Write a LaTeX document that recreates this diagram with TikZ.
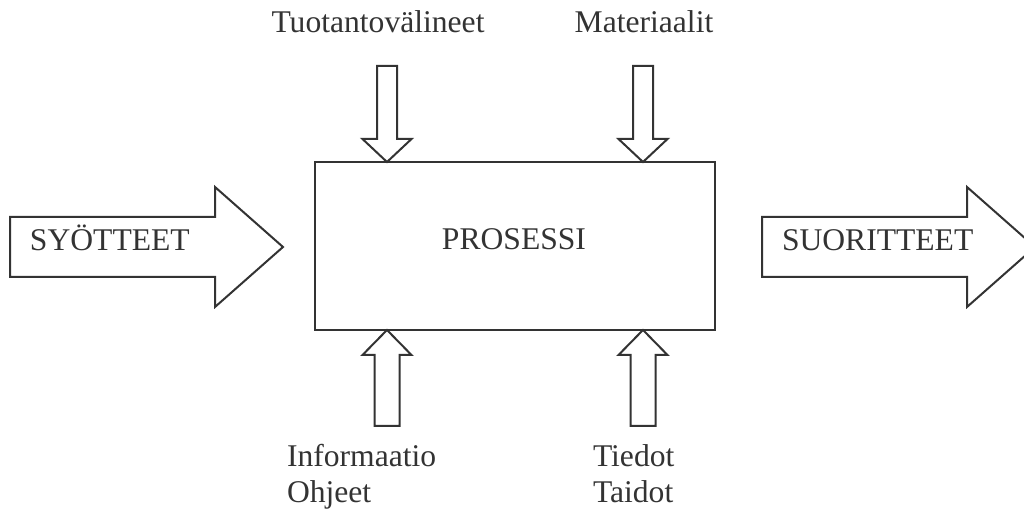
\documentclass[tikz,border=0pt]{standalone}
\usepackage{fontspec}
\setmainfont{Liberation Serif}
\usetikzlibrary{positioning,calc}

\begin{document}
\begin{tikzpicture} [
    x=0.5pt, y=-0.5pt,
    box/.style={draw=black!80, line width=1pt,%
      minimum width=200pt, minimum height=84pt,%
      outer sep=0, inner sep=0},
    fat/.style={draw=black!80, line width=1pt, line join=miter},
    lbl/.style={inner sep=0, outer sep=0,%
      font=\fontsize{15.8}{18}\selectfont, text=black!80}
    ]
    \useasboundingbox (0,0) rectangle (1024,512);
    \node[box] (proc) at (515,246) {};
    \node[lbl, anchor=base] (prname) at (514,250) {PROSESSI};
    % big arrows in and out
    \foreach \name/\x/\txt in {in/10/SYÖTTEET, out/762/SUORITTEET} {%
      \coordinate (\name) at (\x,247);
      \draw[fat] (\name) ++(0,-30) -- ++(205,0) -- ++(0,-30) -- ++(68,60)
        -- ++(-68,60) -- ++(0,-30) -- ++(-205,0) -- cycle;
      \node[lbl, anchor=base west] (\name txt) at ($(\name)+(20,4)$) {\txt};
    }
    % arrows from above
    \foreach \i/\dx/\txt in {1/72/Tuotantovälineet, 2/328/Materiaalit} {%
      \coordinate (t\i) at ($(proc.north west)+(\dx,0)$);
      \draw[fat] (t\i) -- ++(24.5,-23) -- ++(-14.5,0) -- ++(0,-73)
        -- ++(-20,0) -- ++(0,73) -- ++(-14.5,0) -- cycle;
    }
    \node[lbl, anchor=base] (tuot) at ($(t1)+(-9,-129)$) {Tuotantovälineet};
    \node[lbl, anchor=base] (mat) at ($(t2)+(1,-129)$) {Materiaalit};
    % arrows from below
    \foreach \i/\dx in {1/72, 2/328} {%
      \coordinate (b\i) at ($(proc.south west)+(\dx,0)$);
      \draw[fat] (b\i) -- ++(24.5,25) -- ++(-12,0) -- ++(0,71)
        -- ++(-25,0) -- ++(0,-71) -- ++(-12,0) -- cycle;
    }
    \node[lbl, anchor=base west] (info) at ($(b1)+(-100,137)$) {Informaatio};
    \node[lbl, anchor=base west] (ohj) at ($(info.base west)+(0,36)$) {Ohjeet};
    \node[lbl, anchor=base west] (tied) at ($(b2)+(-50,137)$) {Tiedot};
    \node[lbl, anchor=base west] (taid) at ($(tied.base west)+(0,36)$) {Taidot};
  \end{tikzpicture}
\end{document}
